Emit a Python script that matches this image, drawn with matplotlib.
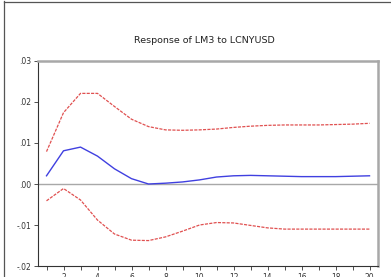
import numpy as np
import matplotlib.pyplot as plt
from matplotlib.lines import Line2D

# impulse response of LM3 to a LCNYUSD shock, with +/- 2 s.e. bands
periods = np.arange(1, 21)
response = [0.0020, 0.0081, 0.0090, 0.0068, 0.0037, 0.0013, 0.0000, 0.0002, 0.0005, 0.0010,
            0.0017, 0.0020, 0.0021, 0.0020, 0.0019, 0.0018, 0.0018, 0.0018, 0.0019, 0.0020]
upper = [0.0079, 0.0174, 0.0221, 0.0221, 0.0189, 0.0158, 0.0140, 0.0132, 0.0131, 0.0132,
         0.0134, 0.0138, 0.0141, 0.0143, 0.0144, 0.0144, 0.0144, 0.0145, 0.0146, 0.0148]
lower = [-0.0041, -0.0011, -0.0039, -0.0088, -0.0122, -0.0137, -0.0138, -0.0129, -0.0115, -0.0100,
         -0.0094, -0.0095, -0.0101, -0.0107, -0.0110, -0.0110, -0.0110, -0.0110, -0.0110, -0.0110]

ytick_vals = [-0.02, -0.01, 0.0, 0.01, 0.02, 0.03]
ytick_labels = ['-.02', '-.01', '.00', '.01', '.02', '.03']
xtick_vals = [2, 4, 6, 8, 10, 12, 14, 16, 18, 20]

fig = plt.figure(figsize=(3.91, 2.77), dpi=100)
ax = fig.add_axes([0.0972, 0.0397, 0.8696, 0.7401])

ax.axhline(0, color='#a8a8a8', lw=1.0, zorder=1)
ax.plot(periods, upper, color='#e05050', lw=0.9, ls=(0, (2.5, 1)))
ax.plot(periods, lower, color='#e05050', lw=0.9, ls=(0, (2.5, 1)))
ax.plot(periods, response, color='#4040e0', lw=1.0)

ax.set_xlim(0.5, 20.5)
ax.set_ylim(-0.02, 0.03)
ax.set_yticks(ytick_vals)
ax.set_yticklabels(ytick_labels)
ax.set_xticks(xtick_vals)
ax.set_xticks(periods, minor=True)
ax.tick_params(axis='both', labelsize=5.5, length=3, width=0.6, color='#333333',
               labelcolor='#333333', pad=2)
ax.tick_params(axis='x', which='minor', length=3, width=0.6, color='#333333')

for s in ['left', 'bottom']:
    ax.spines[s].set_color('#333333')
    ax.spines[s].set_linewidth(0.8)
for s in ['top', 'right']:
    ax.spines[s].set_color('#a8a8a8')
    ax.spines[s].set_linewidth(1.8)

fig.text(0.523, 0.852, 'Response of LM3 to LCNYUSD', ha='center', va='center',
         fontsize=6.8, color='#222222')

# outer frame pieces visible at the top and left edge
fig.add_artist(Line2D([0.011, 0.011], [0, 0.995], color='#555555', lw=0.9))
fig.add_artist(Line2D([0.011, 1.0], [0.992, 0.992], color='#555555', lw=0.9))

fig.savefig('out.png', dpi=100)
